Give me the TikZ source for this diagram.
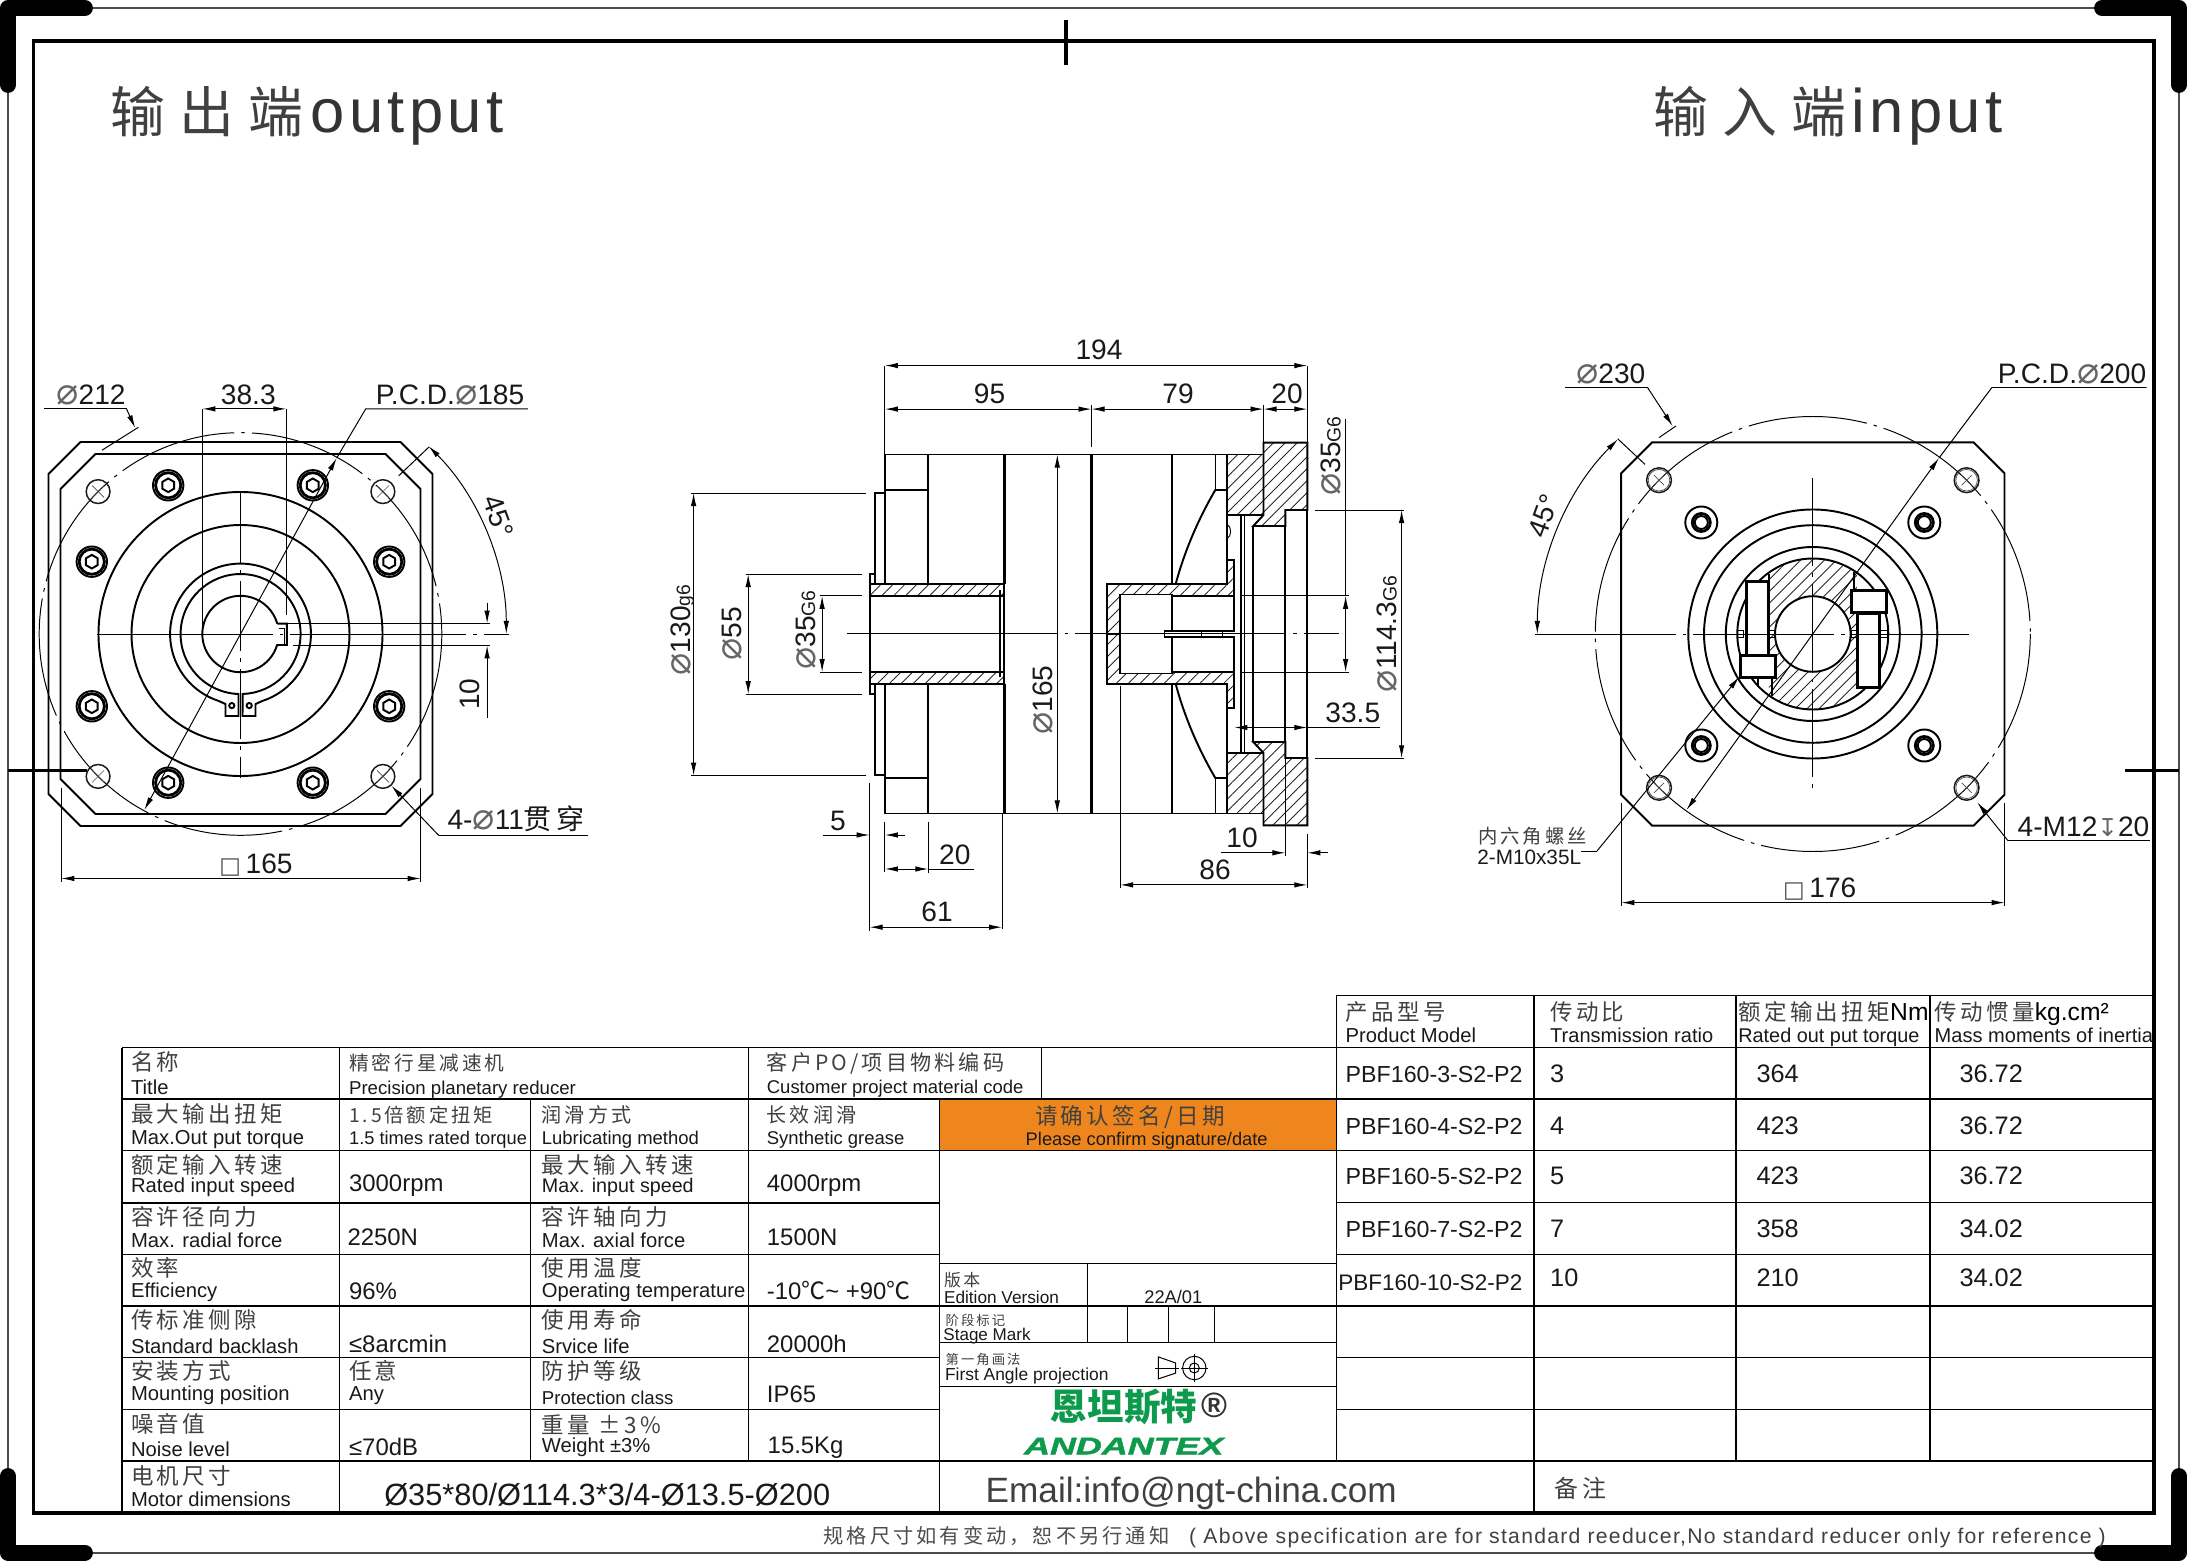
\documentclass[tikz,border=0pt]{standalone}
\usepackage{fontspec}
\setmainfont{Liberation Sans}
\newfontfamily\cjk[LetterSpace=15]{Noto Sans CJK SC}
\newfontfamily\cjkwide[LetterSpace=26]{Noto Sans CJK SC}
\newfontfamily\cjkplain{Noto Sans CJK SC}
\newfontfamily\symfont{DejaVu Sans}
\newfontfamily\logolat[FakeStretch=1.5,FakeBold=2]{Liberation Sans}
\newfontfamily\titlelat[LetterSpace=7]{Liberation Sans}
\newfontfamily\notelat[LetterSpace=6]{Liberation Sans}
\usetikzlibrary{arrows.meta,patterns.meta}
\definecolor{signorange}{HTML}{EF861D}
\definecolor{logogreen}{HTML}{0E9A4D}
\newcommand\fs[1]{\fontsize{#1}{#1}\selectfont}
\newcommand\dmtr{{\symfont\fs{10.5}\color{black!60}⌀}}
\newcommand\sqmark{{\symfont\fs{6.5}\color{black!70}□}}
\newcommand\hexbolt[2]{%
  \draw[outl] (#1,#2) circle[radius=15.2];
  \draw[line width=.8pt] (#1,#2) circle[radius=12.6];
  \draw[outl] (#1,#2) ++(270:6.8) -- ++(30:6.8) -- ++(90:6.8) -- ++(150:6.8) -- ++(210:6.8) -- ++(270:6.8) -- cycle;}
\newcommand\capbolt[2]{%
  \draw[outl] (#1,#2) circle[radius=16];
  \draw[line width=.8pt] (#1,#2) circle[radius=9];
  \draw[outl] (#1,#2) circle[radius=6.5];}
\tikzset{> = {Latex[length=1.3mm,width=.55mm]},
  outl/.style={line width=.55pt},
  bold/.style={line width=.8pt},
  dimln/.style={line width=.28pt},
  holeln/.style={line width=.42pt,black!90},
  crossln/.style={line width=.2pt,black!70},
  ctr/.style={line width=.28pt,dash pattern=on 34pt off 2pt on 1pt off 2pt},
  hatch/.style={pattern={Lines[angle=45,distance=2.4pt,line width=.25pt]},pattern color=black!85},
  tbl/.style={line width=.42pt},
  frameln/.style={line width=1.1pt},
  cornermark/.style={line width=4.5pt,line cap=round,line join=round},
  dimtxt/.style={inner sep=0pt,anchor=mid,font=\fs{8},text=black!90},
  en/.style={inner sep=0pt,anchor=mid west,font=\fs{5.75},text=black!90,shift={(0,3)}},
  cn/.style={inner sep=0pt,anchor=mid west,font={\fs{6.4}\cjk},text=black!75,shift={(0,1.2)}},
  val/.style={inner sep=0pt,anchor=mid west,font=\fs{6.8},text=black!90,shift={(0,1.5)}},
  bigtxt/.style={inner sep=0pt,anchor=base west,font={\fs{17.5}\titlelat},text=black!80},
  bigcn/.style={inner sep=0pt,anchor=base west,font={\fs{15.6}\cjkwide},text=black!75},
}
\begin{document}
\begin{tikzpicture}[x=.01cm,y=.01cm,yscale=-1]
\useasboundingbox (0,0) rectangle (2187,1561);

% trim line and corner marks
\draw[dimln,line width=.5pt,black!70] (8,8) rectangle (2179,1552.7);
\draw[cornermark] (85,8) -- (8,8) -- (8,85);
\draw[cornermark] (2102,8) -- (2179,8) -- (2179,85);
\draw[cornermark] (85,1552.7) -- (8,1552.7) -- (8,1476);
\draw[cornermark] (2102,1552.7) -- (2179,1552.7) -- (2179,1476);
\draw[frameln] (33.5,41) rectangle (2154,1512.7);
\draw[frameln] (1065.8,20) -- (1065.8,65);
\draw[frameln] (8,770.5) -- (87,770.5);
\draw[frameln] (2125,770.5) -- (2179,770.5);

\node[bigcn] (outcn) at (110,133) {输出端};
\node[bigtxt] (outen) at (310,133) {output};
\node[bigcn] (incn) at (1653,133) {输入端};
\node[bigtxt] (inen) at (1851,133) {input};

% output side view
\begin{scope}[shift={(240.5,634)}]
\draw[outl] (-160,-192) -- (160,-192) -- (192,-160) -- (192,160) -- (160,192) -- (-160,192) -- (-192,160) -- (-192,-160) -- cycle;
\draw[outl] (-145,-180) -- (145,-180) -- (180,-145) -- (180,145) -- (145,180) -- (-145,180) -- (-180,145) -- (-180,-145) -- cycle;
\draw[ctr] (0,0) circle[radius=201.3];
\draw[outl] (0,0) circle[radius=142];
\draw[outl] (0,0) circle[radius=109];
\draw[outl] (-2,82) -- (-2,60) arc[start angle=92,end angle=448,radius=60] -- (2,82) -- (15,82) -- (15,70) -- (22,66.9)
  arc[start angle=71.8,end angle=-251.8,radius=70.4] -- (-15,70) -- (-15,82) -- cycle;
\draw[outl] (-8.7,71.6) circle[radius=2.6];
\draw[outl] (8.7,71.6) circle[radius=2.6];
\draw[outl] (36.8,-10.4) -- (46.3,-10.4) -- (46.3,11) -- (36.6,11) arc[start angle=16.7,end angle=344.2,radius=38.2];
\draw[dimln] (38,-6) -- (43.5,-6) -- (43.5,11);
\foreach \x/\y in {-142.4/-142.4,142.4/-142.4,-142.4/142.4,142.4/142.4}{
  \draw[holeln] (\x,\y) circle[radius=11.9];
  \draw[crossln] (\x-6,\y-6) -- (\x+6,\y+6);
  \draw[crossln] (\x-6,\y+6) -- (\x+6,\y-6);
}
\foreach \x/\y in {-72.3/-148.7,72.3/-148.7,-148.7/-72.3,148.7/-72.3,-148.7/72.3,148.7/72.3,-72.3/148.7,72.3/148.7}{
  \hexbolt{\x}{\y}
}
\draw[ctr,dash pattern=on 50pt off 2pt on 1pt off 2pt] (-143.6,0) -- (268.8,0);
\draw[ctr,dash pattern=on 20pt off 2pt on 1pt off 2pt] (0,-141) -- (0,144);
\draw[dimln,<->] (-45:265.8) arc[start angle=-45,end angle=0,radius=265.8];
\end{scope}
\draw[dimln] (43.5,408.9) -- (126.5,408.9);
\draw[dimln,->] (126.5,408.9) -- (135.2,428);
\draw[dimln] (138.4,427.3) -- (102,450.2);
\node[dimtxt] (dia212) at (91,395) {\dmtr212};
\draw[dimln] (202.4,408.9) -- (202.4,634);
\draw[dimln] (286.3,408.9) -- (286.3,615.5);
\draw[dimln,<->] (202.4,408.9) -- (286.3,408.9);
\node[dimtxt] (key383) at (248.3,395) {38.3};
\draw[dimln] (527.9,408.9) -- (365.7,408.9) -- (336.7,458);
\draw[dimln,<->] (336.7,458) -- (144.3,810);
\node[dimtxt] (pcd185) at (450,395) {P.C.D.\dmtr185};
\draw[dimln] (429,447) -- (398.6,475.9);
\draw[dimln] (286.7,623.6) -- (490.3,623.6);
\draw[dimln] (293.4,645.4) -- (490.3,645.4);
\draw[dimln,->] (487.1,603.3) -- (487.1,623.6);
\draw[dimln,->] (487.1,718.1) -- (487.1,645.4);
\node[dimtxt,rotate=90] (key10) at (470.5,694) {10};
\node[dimtxt,rotate=-70] (ang45a) at (498,516.8) {45°};
\draw[dimln] (61.3,787.8) -- (61.3,881.5);
\draw[dimln] (420.7,787.8) -- (420.7,881.5);
\draw[dimln,<->] (61.3,878.5) -- (420.7,878.5);
\node[dimtxt] (sq165) at (256,864) {\sqmark\,165};
\draw[dimln,->] (438.9,835.6) -- (391.4,785.8);
\draw[dimln] (438.9,835.6) -- (588,835.6);
\node[dimtxt,anchor=mid west] (hole11) at (446.8,820) {4-\dmtr11{\cjk 贯穿}};

% section view, both halves
\foreach \s in {1,-1}{
\begin{scope}[shift={(0,634)},yscale=\s]
\draw[outl] (884.9,50) -- (884.9,179.5) -- (1226.7,179.5);
\draw[outl] (884.9,144.3) -- (928.3,144.3);
\draw[outl] (928.3,50) -- (928.3,179.5);
\draw[bold] (1004.3,50) -- (1004.3,179.5);
\draw[bold] (1091.5,0) -- (1091.5,179.5);
\draw[outl] (1172.1,50) -- (1172.1,179.5);
\draw[outl] (1215.5,144.3) -- (1215.5,179.5);
\draw[outl] (1226.7,74.3) -- (1226.7,119);
\draw[outl] (1215.5,144.3) -- (1226.7,144.3);
\draw[outl] (1215.5,144.3) .. controls (1200,118) and (1185,85) .. (1175.7,50);
\draw[outl] (884.9,141) -- (874.7,141) -- (874.7,60) -- (869.6,60) -- (869.6,50);
\draw[outl] (874.7,60) -- (874.7,50);
\draw[outl] (1000.2,0) -- (1000.2,43.5);
\draw[outl] (1004.3,0) -- (1004.3,50);
\draw[outl] (869.6,0) -- (869.6,38);
\draw[outl,hatch] (869.6,38) rectangle (1004.3,50);
\draw[outl,hatch] (1226.7,119) rectangle (1263.5,179.5);
\draw[outl,hatch] (1263.5,191.4) -- (1307.3,191.4) -- (1307.3,124) -- (1285.4,124) -- (1285.4,108) -- (1253.3,108) -- (1263.5,119) -- cycle;
\draw[outl,hatch] (1106.8,0) -- (1106.8,50.2) -- (1226.7,50.2) -- (1226.7,74.3) -- (1234.4,74.3) -- (1234.4,37.9) -- (1171.6,37.9) -- (1171.6,39.5) -- (1120.1,39.5) -- (1120.1,0) -- cycle;
\draw[outl] (1171.6,37.9) -- (1171.6,3.2) -- (1164.5,3.2) -- (1164.5,0);
\draw[outl] (1234.4,37.9) -- (1234.4,3.2) -- (1164.5,3.2);
\draw[dimln] (1201,0) -- (1201,3.2);
\draw[dimln] (1222.6,0) -- (1222.6,3.2);
\draw[outl] (1241,0) -- (1241,119);
\draw[dimln] (1244,0) -- (1244,119);
\draw[outl] (1253.3,0) -- (1253.3,108);
\draw[outl] (1285.4,0) -- (1285.4,108);
\draw[outl] (1307.3,0) -- (1307.3,124);
\end{scope}
}
\draw[dimln] (1226.7,523.8) .. controls (1232,527) and (1232,536) .. (1226.7,539);
\draw[ctr,dash pattern=on 60pt off 2pt on 1pt off 2pt] (846.6,633.7) -- (1339,633.7);
% section dimensions
\draw[dimln] (884.9,365.6) -- (884.9,455);
\draw[dimln] (1307.3,365.6) -- (1307.3,442.7);
\draw[dimln] (1091.5,405) -- (1091.5,447.5);
\draw[dimln] (1263.5,405) -- (1263.5,442.7);
\draw[dimln,<->] (884.9,365.6) -- (1307.3,365.6);
\draw[dimln,<->] (884.9,409.1) -- (1091.5,409.1);
\draw[dimln,<->] (1091.5,409.1) -- (1263.5,409.1);
\draw[dimln,<->] (1263.5,409.1) -- (1307.3,409.1);
\node[dimtxt] (len194) at (1099,350) {194};
\node[dimtxt] (len95) at (989.5,394.5) {95};
\node[dimtxt] (len79) at (1178,394.5) {79};
\node[dimtxt] (len20a) at (1287,394.5) {20};
\draw[dimln,<->] (1057.3,454.5) -- (1057.3,813.5);
\node[dimtxt,rotate=90] (dia165) at (1043,700) {\dmtr165};
\draw[dimln] (691,493) -- (866,493);
\draw[dimln] (691,775.7) -- (866,775.7);
\draw[dimln,<->] (693.6,493) -- (693.6,775.7);
\node[dimtxt,rotate=90] (dia130) at (680.8,630) {\dmtr130{\fs{5.5}g6}};
\draw[dimln] (745.6,574) -- (862,574);
\draw[dimln] (745.6,694.2) -- (862,694.2);
\draw[dimln,<->] (748.2,574) -- (748.2,694.2);
\node[dimtxt,rotate=90] (dia55) at (731.8,634) {\dmtr55};
\draw[dimln] (819.6,595.8) -- (862,595.8);
\draw[dimln] (819.6,672.1) -- (862,672.1);
\draw[dimln,<->] (822.1,595.8) -- (822.1,672.1);
\node[dimtxt,rotate=90] (dia35a) at (805.8,630) {\dmtr35{\fs{5.5}G6}};
\draw[dimln] (1242,595.8) -- (1349,595.8);
\draw[dimln] (1242,672.1) -- (1349,672.1);
\draw[dimln] (1345.6,419) -- (1345.6,595.8);
\draw[dimln,<->] (1345.6,595.8) -- (1345.6,672.1);
\node[dimtxt,rotate=90] (dia35b) at (1331.3,456) {\dmtr35{\fs{5.5}G6}};
\draw[dimln] (1315,510) -- (1403.6,510);
\draw[dimln] (1315,758.3) -- (1403.6,758.3);
\draw[dimln,<->] (1401.6,510) -- (1401.6,758.3);
\node[dimtxt,rotate=90] (dia114) at (1387.3,634) {\dmtr114.3{\fs{5.5}G6}};
\draw[dimln,<->] (1234.4,727.5) -- (1307.3,727.5);
\draw[dimln] (1307.3,727.5) -- (1379.8,727.5);
\node[dimtxt] (len335) at (1352.8,713) {33.5};
\draw[dimln] (869.6,782.8) -- (869.6,931);
\draw[dimln] (884.9,821.6) -- (884.9,871.8);
\draw[dimln,->] (822.6,835) -- (869.6,835);
\draw[dimln,->] (905.3,835) -- (884.9,835);
\node[dimtxt] (len5) at (838,821.6) {5};
\draw[dimln] (928.3,821.6) -- (928.3,872.6);
\draw[dimln,<->] (884.9,869) -- (928.3,869);
\draw[dimln] (928.3,869) -- (974,869);
\node[dimtxt] (len20b) at (954.8,855) {20};
\draw[dimln] (1002,814) -- (1002,929);
\draw[dimln,<->] (869.6,927.2) -- (1002,927.2);
\node[dimtxt] (len61) at (937,912.5) {61};
\draw[dimln] (1285.4,758) -- (1285.4,856);
\draw[dimln] (1307.3,834) -- (1307.3,887.6);
\draw[dimln,->] (1220.6,852.8) -- (1285.4,852.8);
\draw[dimln,->] (1327.8,852.8) -- (1307.3,852.8);
\node[dimtxt] (len10) at (1242,838.5) {10};
\draw[dimln] (1120.1,686) -- (1120.1,887.6);
\draw[dimln,<->] (1120.1,884.9) -- (1307.3,884.9);
\node[dimtxt] (len86) at (1215,870) {86};

% input side view
\begin{scope}[shift={(1812.8,634)}]
\draw[outl] (-160.7,-191.7) -- (160.7,-191.7) -- (191.7,-160.7) -- (191.7,160.7) -- (160.7,191.7) -- (-160.7,191.7) -- (-191.7,160.7) -- (-191.7,-160.7) -- cycle;
\draw[ctr] (0,0) circle[radius=217.5];
\draw[outl] (0,0) circle[radius=124.5];
\draw[outl] (0,0) circle[radius=108.8];
\draw[outl] (0,0) circle[radius=87];
\begin{scope}
\clip (-44,-80) rectangle (44,80);
\path[hatch] (0,0) circle[radius=75.5];
\end{scope}
\draw[outl] (0,0) circle[radius=75.5];
\draw[outl,fill=white] (0,0) circle[radius=37.8];
\foreach \x/\y in {-153.8/-153.8,153.8/-153.8,-153.8/153.8,153.8/153.8}{
  \draw[holeln] (\x,\y) circle[radius=12.4];
  \draw[crossln] (\x,\y) circle[radius=10.8];
  \draw[crossln] (\x-5,\y-5) -- (\x+5,\y+5);
  \draw[crossln] (\x-5,\y+5) -- (\x+5,\y-5);
}
\foreach \x/\y in {-111.5/-111.5,111.5/-111.5,-111.5/111.5,111.5/111.5}{
  \capbolt{\x}{\y}
}
\draw[bold,fill=white] (-66,-52.3) rectangle (-44.3,21);
\draw[bold,fill=white] (-72.7,21.7) rectangle (-37,43.7);
\draw[bold,fill=white] (45,-20.7) rectangle (66.7,53.3);
\draw[bold,fill=white] (38.3,-43.3) rectangle (73.3,-21.7);
\draw[outl] (-44,-52) -- (-44,-60);
\draw[outl] (-41,43.7) -- (-41,62);
\draw[outl] (-55,43.7) -- (-55,52);
\draw[outl] (41,-43.3) -- (41,-62);
\foreach \xa/\xb in {-75/-69,-44/-38,39/45,67/75}{
  \draw[dimln] (\xa,-3.5) rectangle (\xb,3.5);
}
\draw[ctr,dash pattern=on 40pt off 2pt on 1pt off 2pt] (-277.6,0) -- (156.2,0);
\draw[ctr,dash pattern=on 25pt off 2pt on 1pt off 2pt] (0,-155.5) -- (0,156);
\draw[dimln,<->] (180:275.5) arc[start angle=180,end angle=225,radius=275.5];
\end{scope}
\draw[dimln] (1564.8,387.5) -- (1647.5,387.5);
\draw[dimln,->] (1647.5,387.5) -- (1672.7,426.1);
\draw[dimln] (1676,426) -- (1659,437.6);
\node[dimtxt] (dia230) at (1610.7,374) {\dmtr230};
\draw[dimln] (2146.6,387.5) -- (1991.9,387.5) -- (1939,458);
\draw[dimln,<->] (1939,458) -- (1686.5,810);
\node[dimtxt] (pcd200) at (2072,374) {P.C.D.\dmtr200};
\draw[dimln] (1617.6,438.7) -- (1645,464.4);
\node[dimtxt,rotate=70] (ang45b) at (1544,516) {45°};
\draw[dimln,->] (1597,851) -- (1739.3,676.8);
\draw[dimln] (1597,851) -- (1581,851);
\node[inner sep=0pt,anchor=mid west,font={\fs{5.5}\cjk},text=black!75] (scrcn) at (1477.6,834) {内六角螺丝};
\node[en,font=\fs{5.9},shift={(0,-3)}] (scren) at (1476.6,855) {2-M10x35L};
\draw[dimln,->] (2007.9,840.6) -- (1977.2,802.3);
\draw[dimln] (2007.9,840.6) -- (2150.3,840.6);
\node[dimtxt,anchor=mid west] (m12) at (2017,827) {4-M12{\symfont\fs{7}\color{black!60}↧}20};
\draw[dimln] (1621.3,803) -- (1621.3,906.4);
\draw[dimln] (2004.7,803) -- (2004.7,906.4);
\draw[dimln,<->] (1621.3,902.6) -- (2004.7,902.6);
\node[dimtxt] (sq176) at (1819.7,888) {\sqmark\,176};

% title block grid
\fill[signorange] (939.3,1099) rectangle (1336.6,1150.7);
\draw[tbl] (121.8,1047.6) -- (1336.6,1047.6);
\draw[tbl] (121.8,1099) -- (1336.6,1099);
\draw[tbl] (121.8,1150.7) -- (1336.6,1150.7);
\foreach \y in {1202.8,1254.5,1306.2,1357.6,1409.7}{
  \draw[tbl] (121.8,\y) -- (939.3,\y);
}
\draw[tbl] (121.8,1461.2) -- (2154,1461.2);
\draw[tbl] (121.8,1047.6) -- (121.8,1512.7);
\draw[tbl] (339.3,1047.6) -- (339.3,1512.7);
\draw[tbl] (530.5,1099) -- (530.5,1461.2);
\draw[tbl] (748.6,1047.6) -- (748.6,1461.2);
\draw[tbl] (939.3,1099) -- (939.3,1512.7);
\draw[tbl] (1041.7,1047.6) -- (1041.7,1099);
\draw[tbl] (939.3,1263.3) -- (1336.6,1263.3);
\draw[tbl] (939.3,1306.2) -- (1336.6,1306.2);
\draw[tbl] (939.3,1342.7) -- (1336.6,1342.7);
\draw[tbl] (939.3,1386.6) -- (1336.6,1386.6);
\draw[tbl] (1087.7,1263.3) -- (1087.7,1342.7);
\draw[tbl] (1127.3,1306.2) -- (1127.3,1342.7);
\draw[tbl] (1168.3,1306.2) -- (1168.3,1342.7);
\draw[tbl] (1214.3,1306.2) -- (1214.3,1342.7);
\draw[tbl] (1336.6,995.3) -- (1336.6,1461.2);
\draw[tbl] (1534,995.3) -- (1534,1512.7);
\draw[tbl] (1735.9,995.3) -- (1735.9,1461.2);
\draw[tbl] (1930,995.3) -- (1930,1461.2);
\foreach \y in {995.3,1047.3,1099,1150.7,1202.6,1254.4,1306.1,1357.7,1409.5}{
  \draw[tbl] (1336.6,\y) -- (2152.4,\y);
}

% left table
\node[cn] (r1cn) at (130.4,1062.8) {名称};
\node[en] (r1en) at (130.4,1088.5) {Title};
\node[cn,font={\fs{5.6}\cjk}] (r1bcn) at (348.4,1062.8) {精密行星减速机};
\node[en,font=\fs{5.3}] (r1ben) at (348.4,1088.5) {Precision planetary reducer};
\node[cn,font={\fs{6}\cjk}] (r1ccn) at (766.2,1062.8) {客户PO/项目物料编码};
\node[en,font=\fs{5.25}] (r1cen) at (766.2,1087) {Customer project material code};
\node[cn] (r2cn) at (130.4,1114.5) {最大输出扭矩};
\node[en] (r2en) at (130.4,1138.5) {Max.Out put torque};
\node[cn,font={\fs{5.5}\cjk}] (r2bcn) at (348.4,1114.5) {1.5倍额定扭矩};
\node[en,font=\fs{5.2}] (r2ben) at (348.4,1138.5) {1.5 times rated torque};
\node[cn,font={\fs{5.7}\cjk}] (r2ccn) at (541.2,1114.5) {润滑方式};
\node[en,font=\fs{5.25}] (r2cen) at (541.2,1138.5) {Lubricating method};
\node[cn,font={\fs{5.7}\cjk}] (r2dcn) at (766.2,1114.5) {长效润滑};
\node[en,font=\fs{5.25}] (r2den) at (766.2,1138.5) {Synthetic grease};
\node[cn] (r3cn) at (130.4,1165.2) {额定输入转速};
\node[en] (r3en) at (130.4,1186.5) {Rated input speed};
\node[val] (r3b) at (348.4,1184) {3000rpm};
\node[cn] (r3ccn) at (541.2,1165.2) {最大输入转速};
\node[en,font=\fs{5.6}] (r3cen) at (541.2,1186.5) {Max. input speed};
\node[val] (r3d) at (766.2,1184) {4000rpm};
\node[cn] (r4cn) at (130.4,1217.6) {容许径向力};
\node[en] (r4en) at (130.4,1241) {Max. radial force};
\node[val] (r4b) at (346.8,1238) {2250N};
\node[cn] (r4ccn) at (541.2,1217.6) {容许轴向力};
\node[en] (r4cen) at (541.2,1241) {Max. axial force};
\node[val] (r4d) at (766.2,1238) {1500N};
\node[cn] (r5cn) at (130.4,1268.3) {效率};
\node[en] (r5en) at (130.4,1291) {Efficiency};
\node[val] (r5b) at (348.4,1292) {96\%};
\node[cn] (r5ccn) at (541.2,1268.3) {使用温度};
\node[en] (r5cen) at (541.2,1291.5) {Operating temperature};
\node[val] (r5d) at (766.2,1291.5) {-10{\cjkplain ℃}\textasciitilde{} +90{\cjkplain ℃}};
\node[cn] (r6cn) at (130.4,1320.7) {传标准侧隙};
\node[en] (r6en) at (130.4,1347) {Standard backlash};
\node[val] (r6b) at (348.4,1344.5) {≤8arcmin};
\node[cn] (r6ccn) at (541.2,1320.7) {使用寿命};
\node[en] (r6cen) at (541.2,1347) {Srvice life};
\node[val] (r6d) at (766.2,1344.5) {20000h};
\node[cn] (r7cn) at (130.4,1371.4) {安装方式};
\node[en] (r7en) at (130.4,1394.4) {Mounting position};
\node[cn] (r7bcn) at (348.4,1371.4) {任意};
\node[en] (r7ben) at (348.4,1394.4) {Any};
\node[cn] (r7ccn) at (541.2,1371.4) {防护等级};
\node[en,font=\fs{5.3}] (r7cen) at (541.2,1398) {Protection class};
\node[val] (r7d) at (766.2,1395) {IP65};
\node[cn] (r8cn) at (130.4,1424.5) {噪音值};
\node[en] (r8en) at (130.4,1450.5) {Noise level};
\node[val] (r8b) at (348.4,1447.5) {≤70dB};
\node[cn] (r8ccn) at (541.2,1425.5) {重量 ±3\%};
\node[en] (r8cen) at (541.2,1446.5) {Weight ±3\%};
\node[val] (r8d) at (767,1446) {15.5Kg};
\node[cn] (r9cn) at (130.4,1476.2) {电机尺寸};
\node[en] (r9en) at (130.4,1500.6) {Motor dimensions};
\node[val,font=\fs{8.75}] (r9b) at (383.6,1498) {Ø35*80/Ø114.3*3/4-Ø13.5-Ø200};

% sign off and stamps
\node[inner sep=0pt,anchor=mid,font={\fs{6.4}\cjk},text=black!75] (signcn) at (1130,1115) {请确认签名/日期};
\node[inner sep=0pt,anchor=mid,font=\fs{5.2},text=black!90] (signen) at (1146.7,1136.5) {Please confirm signature/date};
\node[cn,font={\fs{4.8}\cjk}] (vercn) at (943.3,1278.5) {版本};
\node[en,font=\fs{4.9}] (veren) at (943.3,1297) {Edition Version};
\node[inner sep=0pt,anchor=mid,font=\fs{5.2},text=black!90] (vernum) at (1173.3,1294) {22A/01};
\node[cn,font={\fs{3.8}\cjk}] (stagecn) at (945,1317.4) {阶段标记};
\node[en,font=\fs{4.85}] (stageen) at (942.7,1333.8) {Stage Mark};
\node[cn,font={\fs{3.8}\cjk}] (anglecn) at (945,1356.2) {第一角画法};
\node[en,font=\fs{4.95}] (angleen) at (944.3,1374) {First Angle projection};
\draw[dimln] (1158.3,1356.9) -- (1175.7,1363) -- (1175.7,1373.1) -- (1158.3,1378.9) -- cycle;
\draw[dimln] (1155,1368) -- (1178.5,1368);
\draw[dimln] (1194.3,1368) circle[radius=11.7];
\draw[dimln] (1194.3,1368) circle[radius=5];
\fill (1194.3,1368) circle[radius=1];
\draw[dimln] (1181,1368) -- (1208,1368);
\draw[dimln] (1194.3,1354) -- (1194.3,1382);
\node[inner sep=0pt,anchor=mid,font={\fs{10.4}\cjkplain\bfseries},text=logogreen] (logocn) at (1124,1411) {恩坦斯特};
\node[inner sep=0pt,anchor=mid,font={\fs{10}\bfseries},text=black!80] (logor) at (1214.3,1408.6) {®};
\node[inner sep=0pt,anchor=mid,font={\fs{6.8}\logolat\bfseries\itshape},text=logogreen] (logoen) at (1123.8,1445) {ANDANTEX};
\node[val,font=\fs{10},text=black!75] (email) at (985,1495) {Email:info@ngt-china.com};
\node[cn,font={\fs{6.8}\cjk}] (remark) at (1554,1489.5) {备注};
\node[inner sep=0pt,anchor=mid west,font={\fs{5.75}\cjk},text=black!70] (notecn) at (823,1534) {规格尺寸如有变动，恕不另行通知};
\node[inner sep=0pt,anchor=mid west,font={\fs{6.02}\notelat},text=black!75] (noteen) at (1188.5,1534) {( Above specification are for standard reeducer,No standard reducer only for reference )};

% right table
\node[cn] (h1cn) at (1345,1012.3) {产品型号};
\node[en] (h1en) at (1345,1036.7) {Product Model};
\node[cn] (h2cn) at (1549.5,1012.3) {传动比};
\node[en,font=\fs{5.7}] (h2en) at (1549.5,1036.7) {Transmission ratio};
\node[cn] (h3cn) at (1737.6,1012.3) {额定输出扭矩{\fs{7}\normalfont\color{black}Nm}};
\node[en,font=\fs{5.65}] (h3en) at (1737.6,1036.7) {Rated out put torque};
\node[cn] (h4cn) at (1934,1012.3) {传动惯量{\fs{7}\normalfont\color{black}kg.cm²}};
\node[en,font=\fs{5.7}] (h4en) at (1934,1036.7) {Mass moments of inertia};
\node[val,font=\fs{6.6}] (m1) at (1345,1075) {PBF160-3-S2-P2};
\node[val,font=\fs{6.6}] (m2) at (1345,1126.7) {PBF160-4-S2-P2};
\node[val,font=\fs{6.6}] (m3) at (1345,1176.7) {PBF160-5-S2-P2};
\node[val,font=\fs{6.6}] (m4) at (1345,1230) {PBF160-7-S2-P2};
\node[val,font=\fs{6.4}] (m5) at (1337.7,1283) {PBF160-10-S2-P2};
\node[val,font=\fs{7.2}] (i1) at (1549.5,1075) {3};
\node[val,font=\fs{7.2}] (i2) at (1549.5,1126.7) {4};
\node[val,font=\fs{7.2}] (i3) at (1549.5,1176.7) {5};
\node[val,font=\fs{7.2}] (i4) at (1549.5,1230) {7};
\node[val,font=\fs{7.2}] (i5) at (1549.5,1278.3) {10};
\node[val,font=\fs{7.2}] (t1) at (1755.8,1075) {364};
\node[val,font=\fs{7.2}] (t2) at (1755.8,1126.7) {423};
\node[val,font=\fs{7.2}] (t3) at (1755.8,1176.7) {423};
\node[val,font=\fs{7.2}] (t4) at (1755.8,1230) {358};
\node[val,font=\fs{7.2}] (t5) at (1755.8,1278.3) {210};
\node[val,font=\fs{7.2}] (j1) at (1958.8,1075) {36.72};
\node[val,font=\fs{7.2}] (j2) at (1958.8,1126.7) {36.72};
\node[val,font=\fs{7.2}] (j3) at (1958.8,1176.7) {36.72};
\node[val,font=\fs{7.2}] (j4) at (1958.8,1230) {34.02};
\node[val,font=\fs{7.2}] (j5) at (1958.8,1278.3) {34.02};
\end{tikzpicture}
\end{document}
